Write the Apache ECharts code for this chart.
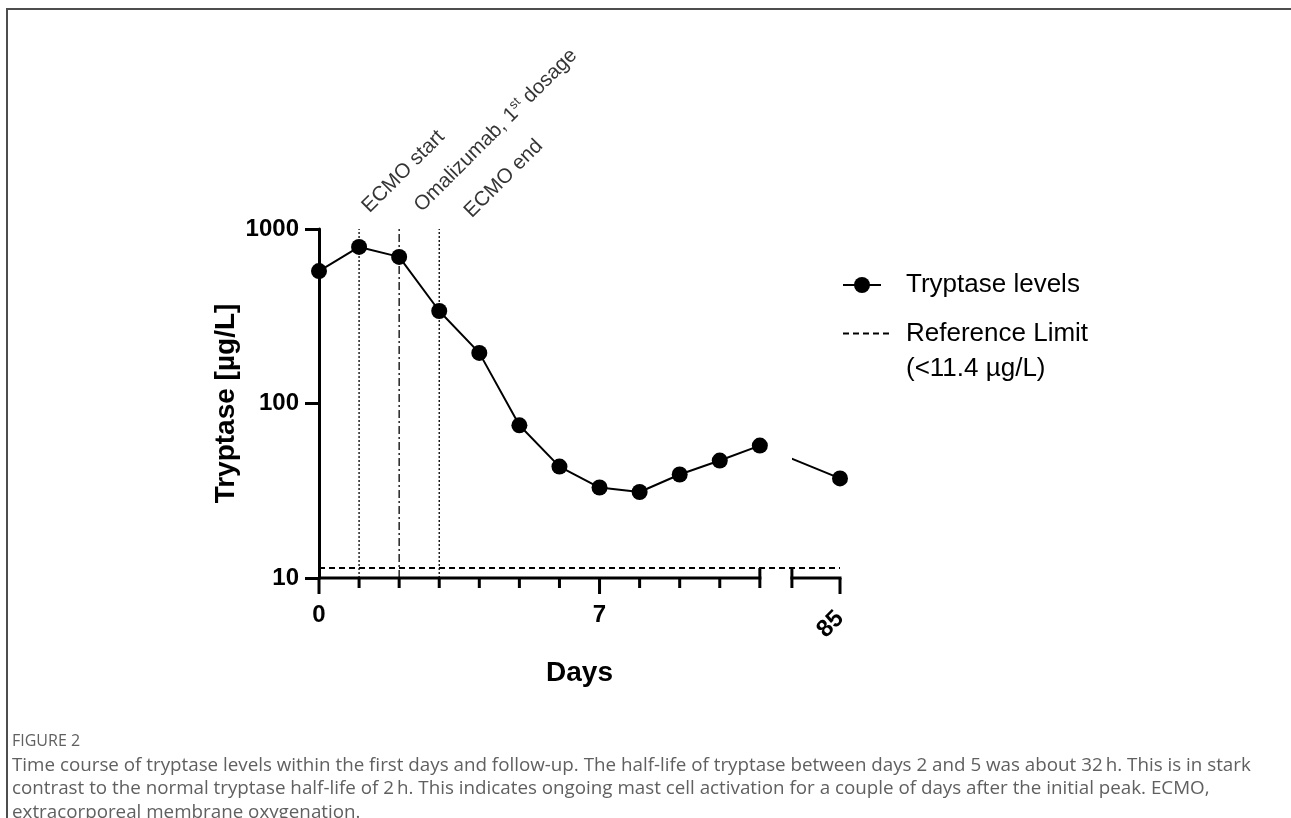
<!DOCTYPE html>
<html><head><meta charset="utf-8">
<script src="https://cdn.jsdelivr.net/npm/echarts@6/dist/echarts.min.js"></script>
<style>html,body{margin:0;padding:0;background:#fff}#c{width:1291px;height:818px}</style>
</head><body><div id="c"></div>
<script>
// ---- data ----
const days = [0, 1, 2, 3, 4, 5, 6, 7, 8, 9, 10, 11, 85];
const tryptase = [574, 789, 692, 339, 195, 75, 43.5, 33, 31.1, 39.2, 47.1, 57.4, 37.2];
const referenceLimit = 11.4;
const labeledDays = [0, 7, 85];
const eventDays = [1, 2, 3];
const eventLabels = ['ECMO start', 'Omalizumab, 1st dosage', 'ECMO end'];
const yRange = [10, 1000];
const seriesName = 'Tryptase levels';
const refName = 'Reference Limit\n(<' + referenceLimit + ' µg/L)';
const captionTitle = 'FIGURE 2';
const captionLines = [
  'Time course of tryptase levels within the first days and follow-up. The half-life of tryptase between days 2 and 5 was about 32\u2009h. This is in stark',
  'contrast to the normal tryptase half-life of 2\u2009h. This indicates ongoing mast cell activation for a couple of days after the initial peak. ECMO,',
  'extracorporeal membrane oxygenation.'
];

// ---- broken axis mapping ----
const lastDay = 11;          // last day of continuous section
const resumePos = 11.8;      // axis position where follow-up section resumes
const followPos = 13;        // axis position used for follow-up day
function pos(d) { return d <= lastDay ? d : followPos; }

const FONT = '"Liberation Sans", Arial, Helvetica, sans-serif';
const CAP_FONT = '"Open Sans", Lato, sans-serif';
const chart = echarts.init(document.getElementById('c'), null, {renderer: 'canvas'});

const axisRender = function (params, api) {
  const y0 = yRange[0];
  const lw = 3;
  const st = {stroke: '#000', lineWidth: lw};
  const ch = [];
  const line = (a, b) => ch.push({type: 'line', shape: {x1: a[0], y1: a[1], x2: b[0], y2: b[1]}, style: st});
  const p0 = api.coord([0, y0]);
  const p11 = api.coord([pos(lastDay), y0]);
  const pr = api.coord([resumePos, y0]);
  const pe = api.coord([pos(days[days.length - 1]), y0]);
  line([p0[0], p0[1]], [p11[0] + lw / 2, p11[1]]);
  line([pr[0] - lw / 2, pr[1]], [pe[0] + lw / 2, pe[1]]);
  days.forEach(d => {
    const p = api.coord([pos(d), y0]);
    if (d === lastDay) { line([p[0], p[1] - 10], [p[0], p[1] + 10]); return; }
    const major = labeledDays.indexOf(d) >= 0;
    line([p[0], p[1]], [p[0], p[1] + (major ? 16 : 10)]);
  });
  line([pr[0], pr[1] - 10], [pr[0], pr[1] + 10]);
  return {type: 'group', children: ch};
};

const option = {
  animation: false,
  backgroundColor: '#fff',
  grid: {left: 319, right: 451, top: 229, bottom: 240, containLabel: false},
  xAxis: [{
    type: 'value', min: 0, max: followPos, interval: 1, position: 'bottom',
    axisLine: {show: false}, axisTick: {show: false}, splitLine: {show: false},
    axisLabel: {
      margin: 25, fontSize: 24, fontWeight: 'bold', fontFamily: FONT, color: '#000',
      showMinLabel: true, showMaxLabel: true,
      formatter: v => (v <= lastDay && labeledDays.indexOf(v) >= 0) ? String(v) : ''
    },
    name: 'Days', nameLocation: 'middle', nameGap: 81,
    nameTextStyle: {fontSize: 28, fontWeight: 'bold', fontFamily: FONT, color: '#000'}
  }, {
    type: 'value', min: 0, max: followPos, interval: 1, position: 'bottom', offset: 0,
    axisLine: {show: false}, axisTick: {show: false}, splitLine: {show: false},
    axisLabel: {
      margin: 37, rotate: 45, fontSize: 24, fontWeight: 'bold', fontFamily: FONT, color: '#000',
      showMinLabel: true, showMaxLabel: true,
      formatter: v => v === followPos ? String(days[days.length - 1]) : ''
    }
  }],
  yAxis: {
    type: 'log', logBase: 10, min: yRange[0], max: yRange[1],
    axisLine: {show: true, lineStyle: {color: '#000', width: 3}},
    axisTick: {show: true, length: 14, lineStyle: {color: '#000', width: 3}},
    minorTick: {show: false}, splitLine: {show: false},
    axisLabel: {margin: 20, fontSize: 24, fontWeight: 'bold', fontFamily: FONT, color: '#000',
      formatter: v => String(Math.round(v))},
    name: 'Tryptase [µg/L]', nameLocation: 'middle', nameGap: 79, nameRotate: 90,
    nameTextStyle: {fontSize: 28, fontWeight: 'bold', fontFamily: FONT, color: '#000'}
  },
  legend: [{
    data: [seriesName], orient: 'vertical', left: 842, top: 272, padding: 0,
    itemWidth: 38, itemHeight: 20, selectedMode: false,
    textStyle: {fontSize: 26, fontFamily: FONT, color: '#000', padding: [0, 0, 0, 20]}
  }, {
    data: [refName], orient: 'vertical', left: 842, top: 281, padding: 0,
    itemWidth: 50, itemHeight: 20, selectedMode: false,
    itemStyle: {color: 'rgba(0,0,0,0)', borderWidth: 0, opacity: 0},
    formatter: n => '\u3000\n' + n,
    textStyle: {fontSize: 26, lineHeight: 35, fontFamily: FONT, color: '#000', padding: [0, 0, 0, 8]}
  }],
  visualMap: {
    show: false, type: 'piecewise', seriesIndex: 2, dimension: 0,
    pieces: [{gt: lastDay, lt: resumePos, color: 'rgba(0,0,0,0)'}],
    outOfRange: {color: '#000'}
  },
  series: [{
    type: 'custom', silent: true, clip: false, z: 3,
    data: [[0, yRange[0]]], renderItem: axisRender
  }, {
    name: refName, type: 'line', silent: true, symbol: 'none', z: 2,
    data: [[0, referenceLimit], [followPos, referenceLimit]],
    lineStyle: {color: '#000', width: 2, type: [6, 4]}, itemStyle: {color: '#000'}
  }, {
    name: seriesName, type: 'line', z: 5,
    data: days.map((d, i) => [pos(d), tryptase[i]]),
    symbol: 'circle', symbolSize: 16,
    lineStyle: {width: 2}, itemStyle: {color: '#000'}
  }].concat(eventDays.map((d, i) => ({
    type: 'line', silent: true, symbol: 'none', z: 1,
    data: [[d, yRange[0]], [d, yRange[1]]],
    lineStyle: {color: '#000', width: 1.3, type: i === 1 ? [8, 3, 2, 3] : [2, 2]}
  }))).concat([{
    type: 'scatter', silent: true, symbolSize: 0, z: 6,
    data: eventDays.map((d, i) => ({
      value: [d, yRange[1]],
      label: {position: [[15, -11], [27, -12], [37, -6]][i]}
    })),
    label: {
      show: true, rotate: 45, align: 'left', verticalAlign: 'bottom',
      fontSize: 20.5, fontFamily: FONT, color: '#000',
      formatter: p => {
        const t = eventLabels[p.dataIndex];
        const m = t.match(/^(.*\d)(st|nd|rd|th)(.*)$/);
        return m ? '{n|' + m[1] + '}{s|' + m[2] + '}{n|' + m[3] + '}' : '{n|' + t + '}';
      },
      rich: {
        n: {fontSize: 20.5, fontFamily: FONT, color: '#000', lineHeight: 24},
        s: {fontSize: 13, fontFamily: FONT, color: '#000', lineHeight: 13, verticalAlign: 'top'}
      }
    }
  }]),
  graphic: [
    {type: 'polyline', silent: true, shape: {points: [[7, 818], [7, 9], [1291, 9]]}, style: {stroke: '#4d4d4d', lineWidth: 2, fill: null}},
    {type: 'text', silent: true, left: 12, top: 733, style: {text: captionTitle, font: '16px ' + CAP_FONT, fill: '#606060'}},
  ].concat(captionLines.map((t, i) => ({
    type: 'text', silent: true, left: 12, top: 756 + i * 23.5,
    style: {text: t, font: '18.8px ' + CAP_FONT, fill: '#606060'}
  })))
};
chart.setOption(option);
</script></body></html>
